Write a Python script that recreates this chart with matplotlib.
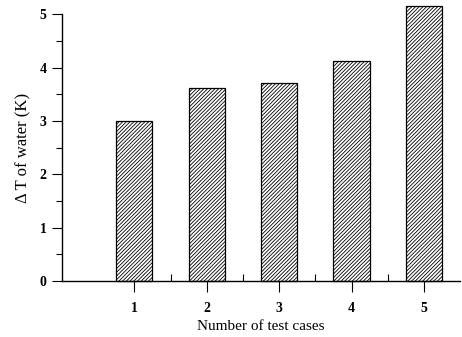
import matplotlib
matplotlib.use("Agg")
import matplotlib.pyplot as plt
from matplotlib.ticker import MultipleLocator

cases = [1, 2, 3, 4, 5]
delta_t = [3.0, 3.62, 3.71, 4.13, 5.15]
xtick_labels = ["1", "2", "3", "4", "5"]

plt.rcParams['font.family'] = ['Liberation Serif', 'DejaVu Serif']
plt.rcParams['hatch.linewidth'] = 0.6

fig = plt.figure(figsize=(4.62, 3.37), dpi=100)
ax = fig.add_axes([0.134, 0.166, 0.862, 0.792])

bars = ax.bar(cases, delta_t, width=0.5, facecolor='white', edgecolor='black',
              hatch='/////////', linewidth=0.9, clip_on=False)

ax.set_xlim(0, 5.5)
ax.set_ylim(0, 5)
ax.spines['top'].set_visible(False)
ax.spines['right'].set_visible(False)
ax.spines['left'].set_linewidth(1.0)
ax.spines['bottom'].set_linewidth(1.0)

ax.set_xticks(cases)
ax.set_xticklabels(xtick_labels, fontweight='bold', fontsize=10)
ax.set_xticks([1.5, 2.5, 3.5, 4.5], minor=True)
ax.tick_params(axis='x', which='major', direction='out', length=8, width=0.8, pad=7)
ax.tick_params(axis='x', which='minor', direction='in', length=5, width=0.8)

ax.set_yticks([0, 1, 2, 3, 4, 5])
ax.set_yticklabels(["0", "1", "2", "3", "4", "5"], fontweight='bold', fontsize=10)
ax.yaxis.set_minor_locator(MultipleLocator(0.5))
ax.tick_params(axis='y', which='major', direction='out', length=7, width=0.8, pad=4)
ax.tick_params(axis='y', which='minor', direction='out', length=4, width=0.8)

ax.set_xlabel("Number of test cases", fontsize=11, labelpad=4)
ax.set_ylabel("Δ T of water (K)", fontsize=12, labelpad=6)

fig.savefig("out.png", dpi=100)
